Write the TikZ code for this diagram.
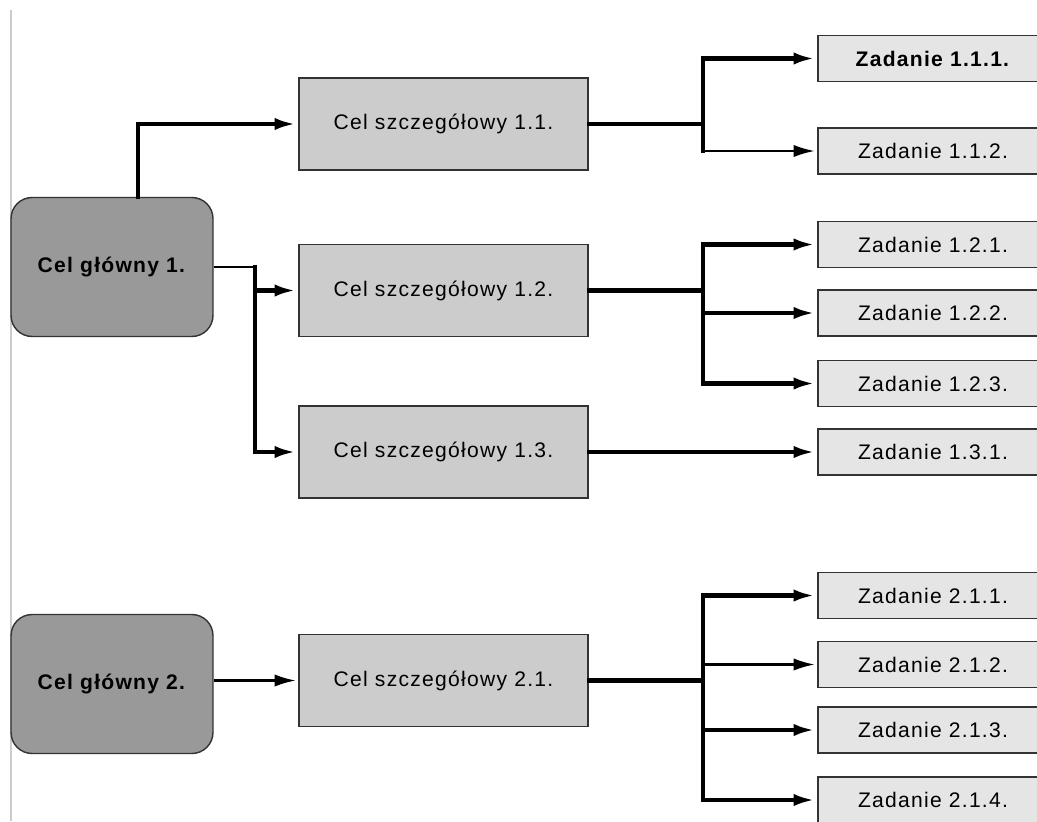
\documentclass[tikz,border=0pt]{standalone}
\usepackage{fontspec}
\setmainfont[LetterSpace=6]{Liberation Sans}
\usetikzlibrary{arrows.meta}

\begin{document}
\begin{tikzpicture}[x=0.02cm, y=-0.02cm]
   \tikzstyle{every node}=[draw=black!80, line width=0.8pt, inner sep=0pt, font=\fontsize{12}{14}\selectfont]
   \tikzstyle{glowny}=[rounded corners=12pt, fill=black!40, minimum width=4.04cm, minimum height=2.78cm]
   \tikzstyle{szczeg}=[fill=black!20, minimum width=5.78cm, minimum height=1.84cm]
   \tikzstyle{zadanie}=[fill=black!10, minimum width=4.6cm, minimum height=0.92cm]
   \tikzstyle{gruba}=[line width=2.3pt, line cap=rect]
   \tikzstyle{cienka}=[line width=1.2pt]
   \tikzstyle{strzalka}=[-{Latex[length=12pt, width=7pt]}, shorten >=1.5pt]

\useasboundingbox (0,0) rectangle (1037,821);
\draw[black!20, line width=1pt] (11,10) -- (11,821);

\node[glowny] (g1) at (112,267) {\textbf{Cel główny 1.}};
\node[glowny] (g2) at (112,684) {\textbf{Cel główny 2.}};

\node[szczeg] (s11) at (443.5,124) {Cel szczegółowy 1.1.};
\node[szczeg] (s12) at (443.5,290.5) {Cel szczegółowy 1.2.};
\node[szczeg] (s13) at (443.5,452) {Cel szczegółowy 1.3.};
\node[szczeg] (s21) at (443.5,680.5) {Cel szczegółowy 2.1.};

\node[zadanie] (z111) at (933,58.5) {\textbf{Zadanie 1.1.1.}};
\node[zadanie] (z112) at (933,151) {Zadanie 1.1.2.};
\node[zadanie] (z121) at (933,244.5) {Zadanie 1.2.1.};
\node[zadanie] (z122) at (933,313) {Zadanie 1.2.2.};
\node[zadanie] (z123) at (933,383.5) {Zadanie 1.2.3.};
\node[zadanie] (z131) at (933,452) {Zadanie 1.3.1.};
\node[zadanie] (z211) at (933,595.5) {Zadanie 2.1.1.};
\node[zadanie] (z212) at (933,664.5) {Zadanie 2.1.2.};
\node[zadanie] (z213) at (933,730) {Zadanie 2.1.3.};
\node[zadanie] (z214) at (933,800) {Zadanie 2.1.4.};

\coordinate (v1) at (138,0);
\coordinate (v2) at (255,0);
\coordinate (v3) at (703,0);

\draw[gruba, strzalka] (g1.north -| v1) |- (s11);
\draw[cienka] (g1.east) -- (g1.east -| v2);
\draw[gruba, strzalka] (g1.east -| v2) |- (s13);
\draw[gruba, strzalka] (v2 |- s12) -- (s12);
\draw[cienka, strzalka] (g2.east |- s21) -- (s21);

\draw[gruba] (s11) -- (v3 |- s11);
\draw[gruba] (v3 |- z111) -- (v3 |- z112);
\draw[gruba, strzalka] (v3 |- z111) -- (z111);
\draw[cienka, strzalka] (v3 |- z112) -- (z112);

\draw[gruba] (s12) -- (v3 |- s12);
\draw[gruba] (v3 |- z121) -- (v3 |- z123);
\foreach \z in {z121,z122,z123}
   \draw[gruba, strzalka] (v3 |- \z) -- (\z);

\draw[gruba, strzalka] (s13) -- (z131);

\draw[gruba] (s21) -- (v3 |- s21);
\draw[gruba] (v3 |- z211) -- (v3 |- z214);
\foreach \z in {z211,z213,z214}
   \draw[gruba, strzalka] (v3 |- \z) -- (\z);
\draw[cienka, strzalka] (v3 |- z212) -- (z212);

\end{tikzpicture}
\end{document}
